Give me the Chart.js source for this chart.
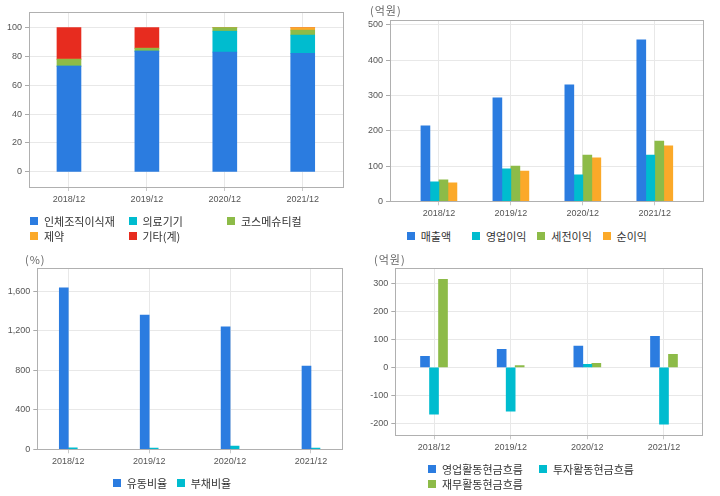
<!DOCTYPE html>
<html>
<head>
<meta charset="utf-8">
<script src="https://cdn.jsdelivr.net/npm/chart.js@4.4.1/dist/chart.umd.min.js"></script>
<style>
	body { margin: 0; width: 720px; height: 496px; background: #fff; position: relative; overflow: hidden; font-family: "Noto Sans CJK KR", sans-serif; }
	.box { position: absolute; }
	.unit { position: absolute; font-size: 11px; line-height: 14px; color: #666; letter-spacing: 1px; }
	.legend { position: absolute; display: flex; flex-wrap: wrap; font-size: 11px; color: #333; }
	.legend span { display: inline-flex; align-items: center; white-space: nowrap; }
	.legend i { display: inline-block; width: 8px; height: 8px; margin-right: 6px; }
</style>
</head>
<body>
<div class="box" style="left:0;top:0;width:360px;height:212px"><canvas id="mix"></canvas></div>
<div class="box" style="left:360px;top:0;width:360px;height:226px"><canvas id="income"></canvas></div>
<div class="box" style="left:0;top:248px;width:360px;height:230px"><canvas id="ratio"></canvas></div>
<div class="box" style="left:360px;top:248px;width:360px;height:212px"><canvas id="cash"></canvas></div>

<div class="unit" style="left:370px;top:3px">(억원)</div>
<div class="unit" style="left:25px;top:252px">(%)</div>
<div class="unit" style="left:374px;top:252px">(억원)</div>

<div class="legend" id="mix-legend" style="left:30px;top:213.75px;width:300px"></div>
<div class="legend" id="income-legend" style="left:406.7px;top:228.75px;width:270px"></div>
<div class="legend" id="ratio-legend" style="left:112.7px;top:476px;width:140px"></div>
<div class="legend" id="cash-legend" style="left:428px;top:462px;width:230px"></div>

<script>
const years = ['2018/12', '2019/12', '2020/12', '2021/12'];
const xPos  = [0, 1, 2, 3];

// 매출 구성 (%)
const mixNames = ['인체조직이식재', '의료기기', '코스메슈티컬', '제약', '기타(계)'];
const tissue   = [73.3, 83.7, 83.0, 82.2];
const device   = [0, 0, 14.5, 12.6];
const cosme    = [4.8, 2.0, 2.5, 3.4];
const pharma   = [0, 0, 0, 1.8];
const other    = [21.9, 14.3, 0, 0];
const mixTicks = [0, 20, 40, 60, 80, 100];

// 손익 (억원)
const incomeNames = ['매출액', '영업이익', '세전이익', '순이익'];
const sales       = [214, 293, 330, 458];
const opProfit    = [55, 92, 75, 131];
const pretax      = [61, 100, 131, 171];
const netIncome   = [52, 86, 123, 157];
const incomeTicks = [0, 100, 200, 300, 400, 500];

// 안정성 (%)
const ratioNames   = ['유동비율', '부채비율'];
const currentRatio = [1634, 1360, 1239, 844];
const debtRatio    = [14, 12, 33, 13];
const ratioTicks   = [0, 400, 800, 1200, 1600];

// 현금흐름 (억원)
const cashNames  = ['영업활동현금흐름', '투자활동현금흐름', '재무활동현금흐름'];
const operCash   = [40, 65, 76, 111];
const investCash = [-167, -157, 11, -203];
const financCash = [315, 7, 15, 47];
const cashTicks  = [-200, -100, 0, 100, 200, 300];

const BLUE   = '#2b7ce0';
const CYAN   = '#00bccf';
const GREEN  = '#8dbb48';
const ORANGE = '#fba929';
const RED    = '#e72c1f';

const GRID = '#e8e8e8';
const TICK_FONT = { family: '"Liberation Sans", Arial, sans-serif', size: 9 };

const frame = {
	id: 'frame',
	afterDraw (chart) {
		const { ctx, chartArea: a } = chart;
		ctx.save();
		ctx.strokeStyle = '#b0b0b0';
		ctx.lineWidth = 1;
		ctx.strokeRect(Math.round(a.left) + 0.5, Math.round(a.top) + 0.5,
			Math.round(a.right - a.left), Math.round(a.bottom - a.top));
		ctx.restore();
	}
};

function makeChart (id, cfg) {
	const datasets = cfg.series.map((s, i) => ({
		label: cfg.names[i],
		data: s.map((v, j) => ({ x: xPos[j], y: v })),
		backgroundColor: cfg.colors[i],
		barThickness: cfg.barWidth,
		borderWidth: 0
	}));

	return new Chart(document.getElementById(id), {
		type: 'bar',
		data: { datasets },
		options: {
			responsive: true,
			maintainAspectRatio: false,
			animation: false,
			layout: { padding: cfg.padding },
			plugins: { legend: { display: false }, tooltip: { enabled: false } },
			scales: {
				x: {
					type: 'linear',
					offset: false,
					min: cfg.xMin,
					max: cfg.xMax,
					stacked: !!cfg.stacked,
					afterBuildTicks: s => { s.ticks = xPos.map(v => ({ value: v })); },
					afterFit: s => { s.height = cfg.xHeight; },
					ticks: { callback: v => years[v], font: TICK_FONT, color: '#555', padding: 3, maxRotation: 0, autoSkip: false },
					grid: { offset: false, color: GRID, tickColor: '#c8c8c8', tickLength: 4 },
					border: { display: false }
				},
				y: {
					min: cfg.yMin,
					max: cfg.yMax,
					stacked: !!cfg.stacked,
					afterBuildTicks: s => { s.ticks = cfg.yTicks.map(v => ({ value: v })); },
					afterFit: s => { s.width = cfg.yWidth; },
					ticks: { callback: v => v.toLocaleString('en-US'), font: TICK_FONT, color: '#555', padding: 3 },
					grid: { color: GRID, tickColor: '#aaa', tickLength: 4 },
					border: { display: false }
				}
			}
		},
		plugins: [frame]
	});
}

function makeLegend (id, names, colors, colWidth) {
	const el = document.getElementById(id);
	names.forEach((name, i) => {
		const item = document.createElement('span');
		item.style.width = colWidth + 'px';
		item.style.height = '14.5px';
		const sw = document.createElement('i');
		sw.style.background = colors[i];
		item.appendChild(sw);
		item.appendChild(document.createTextNode(name));
		el.appendChild(item);
	});
}

const mixColors    = [BLUE, CYAN, GREEN, ORANGE, RED];
const incomeColors = [BLUE, CYAN, GREEN, ORANGE];
const ratioColors  = [BLUE, CYAN];
const cashColors   = [BLUE, CYAN, GREEN];

makeChart('mix', {
	names: mixNames, colors: mixColors, series: [tissue, device, cosme, pharma, other],
	stacked: true, barWidth: 24,
	xMin: -0.513, xMax: 3.517, yMin: -10.5, yMax: 110.8, yTicks: mixTicks,
	padding: { left: 0, top: 12, right: 17, bottom: 0 }, yWidth: 29, xHeight: 25
});

makeChart('income', {
	names: incomeNames, colors: incomeColors, series: [sales, opProfit, pretax, netIncome],
	barWidth: 9,
	xMin: -0.68, xMax: 3.67, yMin: 0, yMax: 513, yTicks: incomeTicks,
	padding: { left: 0, top: 20.3, right: 17, bottom: 0 }, yWidth: 30, xHeight: 24.7
});

makeChart('ratio', {
	names: ratioNames, colors: ratioColors, series: [currentRatio, debtRatio],
	barWidth: 9,
	xMin: -0.383, xMax: 3.392, yMin: 0, yMax: 1836, yTicks: ratioTicks,
	padding: { left: 0, top: 20, right: 17.3, bottom: 0 }, yWidth: 37.3, xHeight: 28.7
});

makeChart('cash', {
	names: cashNames, colors: cashColors, series: [operCash, investCash, financCash],
	barWidth: 9,
	xMin: -0.505, xMax: 3.505, yMin: -243, yMax: 356, yTicks: cashTicks,
	padding: { left: 0, top: 20, right: 17.3, bottom: 0 }, yWidth: 35.3, xHeight: 24.7
});

makeLegend('mix-legend', mixNames, mixColors, 98.5);
makeLegend('income-legend', incomeNames, incomeColors, 65.3);
makeLegend('ratio-legend', ratioNames, ratioColors, 64);
makeLegend('cash-legend', cashNames, cashColors, 111);
</script>
</body>
</html>
